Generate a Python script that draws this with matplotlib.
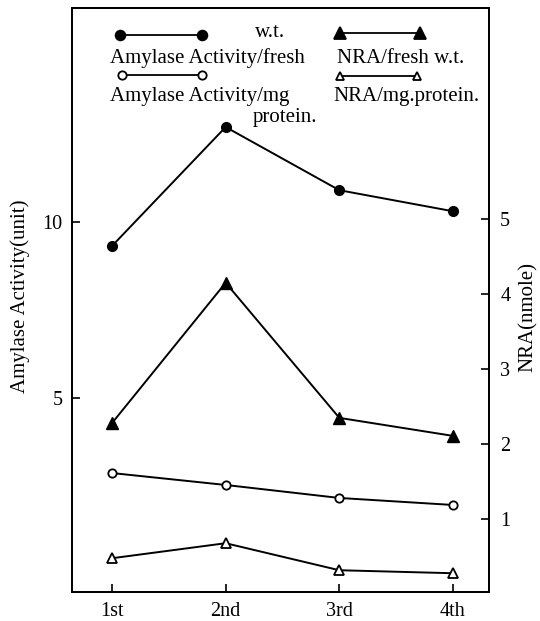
import matplotlib
matplotlib.use("Agg")
import matplotlib.pyplot as plt
from matplotlib.lines import Line2D

plt.rcParams["font.family"] = ["Liberation Serif", "DejaVu Serif"]

stages = ["1st", "2nd", "3rd", "4th"]
amylase_fresh = [9.32, 12.71, 10.91, 10.31]
amylase_protein = [2.85, 2.51, 2.14, 1.94]
nra_fresh = [2.28, 4.15, 2.35, 2.11]
nra_protein = [0.48, 0.68, 0.32, 0.28]

left_ticks = [5, 10]
right_ticks = [1, 2, 3, 4, 5]

fig = plt.figure(figsize=(5.4, 6.21), dpi=100)
ax = fig.add_axes([0.1333, 0.0467, 0.7723, 0.9403])
ax2 = ax.twinx()

x = list(range(1, len(stages) + 1))
lw = 1.4
ax.plot(x, amylase_fresh, color="black", lw=lw, marker="o", ms=7, mfc="black")
ax.plot(x, amylase_protein, color="black", lw=lw, marker="o", ms=6, mfc="white", mew=1.3)
ax2.plot(x, nra_fresh, color="black", lw=lw, marker="^", ms=8, mfc="black")
ax2.plot(x, nra_protein, color="black", lw=lw, marker="^", ms=7, mfc="white", mew=1.3)

ax.set_xlim(0.648, 4.317)
ax.set_ylim(-0.54, 16.10)
ax2.set_ylim(0.03, 7.81)

tfs = 14.5
ax.set_xticks(x)
ax.set_xticklabels(stages, fontsize=tfs)
ax.set_yticks(left_ticks)
ax.set_yticklabels([str(t) for t in left_ticks], fontsize=tfs)
ax2.set_yticks(right_ticks)
ax2.set_yticklabels([str(t) for t in right_ticks], fontsize=tfs)
ax.tick_params(axis="both", direction="in", length=6, width=1.2, pad=7)
ax2.tick_params(axis="y", direction="in", length=6, width=1.2, pad=8)
for a in (ax, ax2):
    for s in a.spines.values():
        s.set_linewidth(1.3)

ax.set_ylabel("Amylase Activity(unit)", fontsize=15)
ax2.set_ylabel("NRA(nmole)", fontsize=15)
ax.yaxis.set_label_coords(-0.100, 0.507)
ax2.yaxis.set_label_coords(1.072, 0.471)

# legend drawn by hand to follow the original layout
def key(x0, x1, y, marker, filled, ms):
    ax.add_line(Line2D([x0, x1], [y, y], transform=ax.transAxes, color="black",
                       lw=1.3, marker=marker, ms=ms,
                       mfc="black" if filled else "white", mew=1.3))

key(0.115, 0.312, 0.954, "o", True, 7)
key(0.120, 0.312, 0.885, "o", False, 6)
key(0.643, 0.835, 0.957, "^", True, 8)
key(0.643, 0.827, 0.884, "^", False, 6)

fs = 15
ax.text(0.475, 0.959, "w.t.", transform=ax.transAxes, ha="center", va="center", fontsize=fs)
ax.text(0.324, 0.914, "Amylase Activity/fresh", transform=ax.transAxes, ha="center", va="center", fontsize=fs)
ax.text(0.787, 0.914, "NRA/fresh w.t.", transform=ax.transAxes, ha="center", va="center", fontsize=fs)
ax.text(0.307, 0.848, "Amylase Activity/mg", transform=ax.transAxes, ha="center", va="center", fontsize=fs)
ax.text(0.511, 0.812, "protein.", transform=ax.transAxes, ha="center", va="center", fontsize=fs)
ax.text(0.801, 0.848, "NRA/mg.protein.", transform=ax.transAxes, ha="center", va="center", fontsize=fs)

fig.savefig("out.png", dpi=100)
